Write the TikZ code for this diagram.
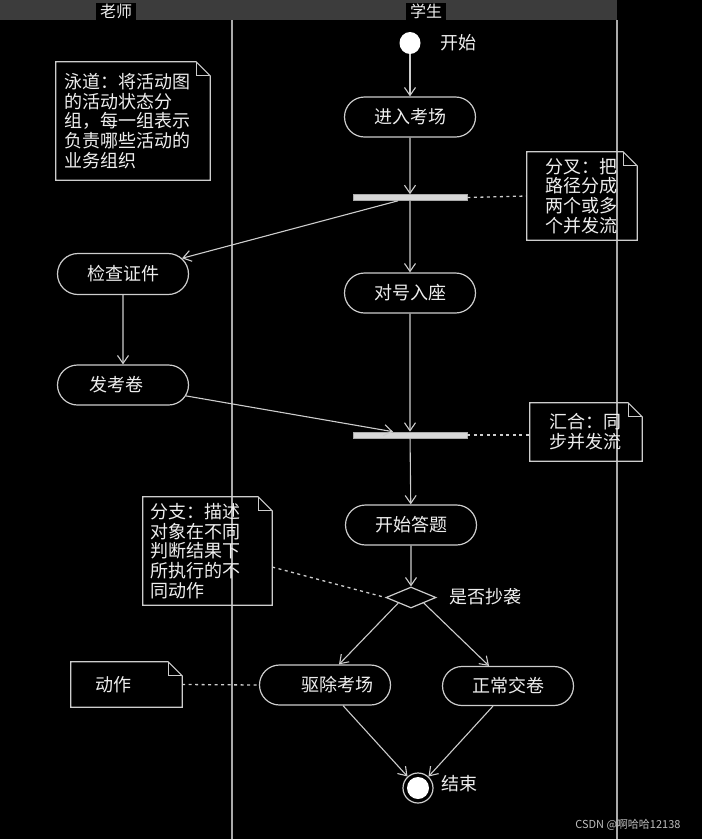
\documentclass[tikz,border=0pt]{standalone}
\usepackage{fontspec}
\setmainfont{Noto Sans CJK SC}
\usetikzlibrary{shapes.misc,shapes.geometric,arrows.meta}
\definecolor{linecol}{RGB}{205,205,205}
\definecolor{lanecol}{RGB}{170,170,170}
\definecolor{textcol}{RGB}{238,238,238}
\definecolor{hdrcol}{RGB}{60,60,60}
\definecolor{barfill}{RGB}{215,215,215}
\definecolor{wmcol}{RGB}{190,190,190}
\tikzset{
  every node/.style={font=\fontsize{18}{19.7}\selectfont, text=textcol},
  act/.style={rounded rectangle, draw=linecol, line width=1.2pt, minimum width=131pt, minimum height=40pt, inner sep=0pt},
  forkbar/.style={rectangle, draw=lanecol, fill=barfill, line width=0.6pt, minimum width=114pt, minimum height=6pt, inner sep=0pt},
  notebox/.style={rectangle, align=left, inner ysep=0pt},
  noteline/.style={draw=linecol, line width=1.2pt},
  arr/.style={draw=linecol, line width=1.1pt, -{Straight Barb[length=8pt,width=11pt]}},
  dots/.style={draw=linecol, line width=1.3pt, dash pattern=on 3pt off 3.5pt},
  lane/.style={draw=lanecol, line width=1.6pt},
  hdrlabel/.style={fill=black, font=\fontsize{16}{18}\selectfont, inner xsep=4pt, inner ysep=1pt, minimum height=17pt}
}
\begin{document}
\begin{tikzpicture}[x=1pt,y=-1pt]
\fill[black] (0,0) rectangle (702,839);
\useasboundingbox (0,0) rectangle (702,839);
% header
\fill[hdrcol] (0,0) rectangle (617,20);
\node[hdrlabel] (hTeacher) at (116,11.5) {老师};
\node[hdrlabel] (hStudent) at (426,11.5) {学生};
% lanes
\draw[lane] (232,20) -- (232,839);
\draw[lane] (617,20) -- (617,839);
% start / end
\node[ellipse, fill=white, minimum width=21pt, minimum height=22pt, inner sep=0pt] (start) at (410,43) {};
\node[anchor=west] (startlbl) at (437,43) {开始};
\node[circle, draw=linecol, line width=1.2pt, minimum size=30pt, inner sep=0pt] (endc) at (418,788) {};
\fill[white] (endc.center) circle (11pt);
\node[anchor=west] (endlbl) at (438,784) {结束};
% activities
\node[act] (enter) at (410,117) {进入考场};
\node[forkbar] (bar1) at (410,197.5) {};
\node[act] (seat) at (410,293) {对号入座};
\node[act, minimum height=41pt] (chk) at (123,274) {检查证件};
\node[act] (fkj) at (123,385) {发考卷\hspace*{14pt}};
\node[forkbar] (bar2) at (410,435) {};
\node[act] (ans) at (411,525) {开始答题};
\node[diamond, draw=linecol, line width=1.2pt, minimum width=50pt, minimum height=21pt, inner sep=0pt] (dia) at (411,597.5) {};
\node[anchor=west] (dialbl) at (446,597) {是否抄袭};
\node[act] (qc) at (325,685) {\hspace*{24pt}驱除考场};
\node[act, minimum height=39pt] (zc) at (508,686) {正常交卷};
% notes
\node[notebox, minimum width=154pt, minimum height=118pt, inner xsep=8pt, text width=138pt] (n1) at (133,121)
  {泳道：将活动图\\的活动状态分\\组，每一组表示\\负责哪些活动的\\业务组织};
\node[notebox, minimum width=110pt, minimum height=88pt, inner xsep=18pt, text width=74pt] (n2) at (582,196)
  {分叉：把\\路径分成\\两个或多\\个并发流};
\node[notebox, minimum width=112pt, minimum height=58pt, inner xsep=19pt, text width=74pt] (n3) at (586,432)
  {汇合：同\\步并发流};
\node[notebox, minimum width=129pt, minimum height=108pt, inner xsep=7pt, text width=115pt] (n4) at (207.5,551)
  {分支：描述\\对象在不同\\判断结果下\\所执行的不\\同动作};
\node[notebox, minimum width=111pt, minimum height=45pt, inner xsep=24pt, text width=63pt] (n5) at (126.5,684.5)
  {动作};
\foreach \n in {n1,n2,n3,n4,n5}{
  \draw[noteline] (\n.north west) -- ([xshift=-14pt]\n.north east) -- ([yshift=-14pt]\n.north east)
     -- (\n.south east) -- (\n.south west) -- cycle;
  \draw[noteline] ([xshift=-14pt]\n.north east) |- ([yshift=-14pt]\n.north east);
}
% flow
\draw[arr] (start) -- (enter);
\draw[arr] (enter) -- (bar1);
\draw[arr] (bar1) -- (seat);
\draw[arr] ([xshift=-12pt]bar1.south) -- (chk);
\draw[arr] (chk) -- (fkj);
\draw[arr] (seat) -- (bar2);
\draw[arr] (fkj) -- ([xshift=-17pt]bar2.north);
\draw[arr] (bar2) -- (ans);
\draw[arr] (ans) -- (dia);
\draw[arr] (dia.south west) -- ([xshift=14pt]qc.north);
\draw[arr] (dia.south east) -- ([xshift=-19pt]zc.north);
\draw[arr] ([xshift=18pt]qc.south) -- (endc);
\draw[arr] ([xshift=-15pt]zc.south) -- (endc);
% dotted note links
\draw[dots] (bar1.east) -- (n2.west);
\draw[dots] (bar2.east) -- (bar2.east -| n3.west);
\draw[dots] ([yshift=-16pt]n4.east) -- (dia.west);
\draw[dots] (n5.east) -- (qc.west);
% watermark
\node[font=\fontsize{11}{13}\selectfont, text=wmcol, anchor=east] (wm) at (684,825) {CSDN @啊哈哈12138};
\end{tikzpicture}
\end{document}
